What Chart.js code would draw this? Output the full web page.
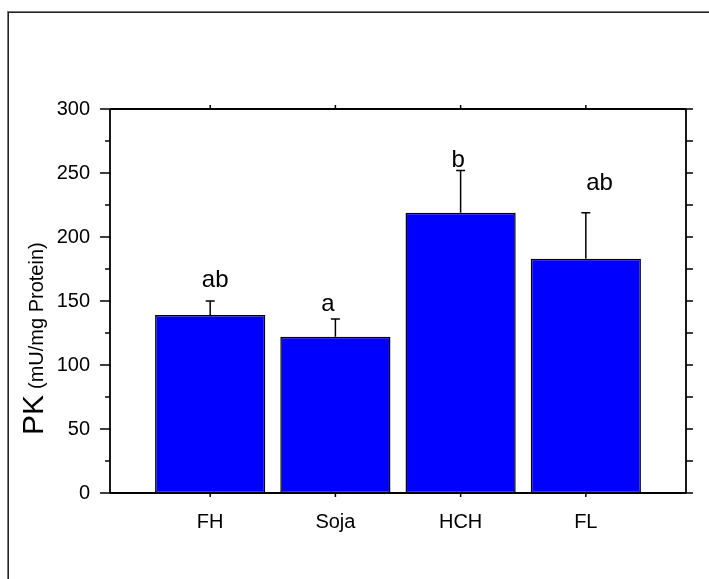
<!DOCTYPE html>
<html><head><meta charset="utf-8">
<script src="https://cdn.jsdelivr.net/npm/chart.js@4/dist/chart.umd.min.js"></script>
<style>html,body{margin:0;padding:0;background:#fff}#wrap{position:absolute;left:0;top:0;width:709px;height:579px}</style>
</head><body><div id="wrap"><canvas id="c" width="709" height="579"></canvas></div>
<script>
const categories = ['FH', 'Soja', 'HCH', 'FL'];
const means = [139, 122, 219, 183];
const errors = [11, 14, 33, 36];
const letters = ['ab', 'a', 'b', 'ab'];
const letterX = [0.04, 0.94, 1.98, 3.11];
const letterY = [161, 142, 255, 237];
const yMin = 0, yMax = 300, yStep = 50, yMinorStep = 25;
const yTitleMain = 'PK';
const yTitleSub = '(mU/mg Protein)';

const FONT = "'Liberation Sans', Arial, sans-serif";

const decor = {
  id: 'decor',
  beforeDraw(chart) {
    const ctx = chart.ctx;
    ctx.save();
    ctx.fillStyle = '#fff';
    ctx.fillRect(0, 0, chart.width, chart.height);
    ctx.strokeStyle = '#777';
    ctx.lineWidth = 1;
    ctx.strokeRect(7.5, 11.5, 2000, 2000);
    ctx.strokeStyle = '#222';
    ctx.strokeRect(8.5, 12.5, 2000, 2000);
    ctx.restore();
  },
  afterDatasetsDraw(chart) {
    const ctx = chart.ctx;
    const xs = chart.scales.x, ys = chart.scales.y;
    const a = chart.chartArea;
    ctx.save();
    // error bars
    ctx.strokeStyle = '#000';
    ctx.lineWidth = 1.5;
    means.forEach((m, i) => {
      const x = xs.getPixelForValue(i);
      const y0 = ys.getPixelForValue(m);
      const y1 = ys.getPixelForValue(m + errors[i]);
      ctx.beginPath();
      ctx.moveTo(x, y0); ctx.lineTo(x, y1);
      ctx.moveTo(x - 4.5, y1); ctx.lineTo(x + 4.5, y1);
      ctx.stroke();
    });
    // letters
    ctx.fillStyle = '#000';
    ctx.font = '24px ' + FONT;
    ctx.textAlign = 'center';
    ctx.textBaseline = 'alphabetic';
    letters.forEach((t, i) => {
      ctx.fillText(t, xs.getPixelForValue(letterX[i]), ys.getPixelForValue(letterY[i]));
    });
    // axes frame
    ctx.lineWidth = 1.8;
    ctx.beginPath();
    ctx.moveTo(a.left, a.top); ctx.lineTo(a.right, a.top);
    ctx.moveTo(a.left, a.top); ctx.lineTo(a.left, a.bottom);
    ctx.moveTo(a.right, a.top); ctx.lineTo(a.right, a.bottom);
    ctx.moveTo(a.left, a.bottom); ctx.lineTo(a.right, a.bottom);
    ctx.stroke();
    ctx.lineWidth = 1.5;
    ctx.beginPath();
    for (let v = yMin; v <= yMax; v += yMinorStep) {
      const y = ys.getPixelForValue(v);
      const major = v % yStep === 0;
      ctx.moveTo(a.left - (major ? 10 : 5), y); ctx.lineTo(a.left, y);
      ctx.moveTo(a.right, y); ctx.lineTo(a.right + 7, y);
    }
    categories.forEach((c, i) => {
      const x = xs.getPixelForValue(i);
      ctx.moveTo(x, a.bottom); ctx.lineTo(x, a.bottom + 4);
      ctx.moveTo(x, a.top); ctx.lineTo(x, a.top - 4);
    });
    ctx.stroke();
    // y title
    ctx.translate(43, 435);
    ctx.rotate(-Math.PI / 2);
    ctx.textAlign = 'left';
    ctx.font = '30px ' + FONT;
    ctx.fillText(yTitleMain, 0, 0);
    const w = ctx.measureText(yTitleMain).width;
    ctx.font = '20px ' + FONT;
    ctx.fillText(yTitleSub, w + 6, 0);
    ctx.restore();
  }
};

new Chart(document.getElementById('c'), {
  type: 'bar',
  data: {
    datasets: [{
      data: categories.map((c, i) => ({ x: i, y: means[i] })),
      backgroundColor: '#0000ff',
      borderColor: '#000',
      borderWidth: 1.5,
      borderSkipped: false,
      barPercentage: 0.88,
      categoryPercentage: 1
    }]
  },
  options: {
    responsive: false,
    animation: false,
    layout: { padding: { left: 0, top: 109, right: 23, bottom: 0 } },
    plugins: { legend: { display: false }, tooltip: { enabled: false } },
    scales: {
      x: {
        type: 'linear',
        position: 'bottom',
        offset: false,
        min: -0.8,
        max: 3.8,
        grid: { display: false, drawTicks: false, offset: false },
        border: { display: false },
        afterBuildTicks: s => { s.ticks = categories.map((c, i) => ({ value: i })); },
        afterFit: s => { s.height = 86; },
        ticks: {
          autoSkip: false,
          maxRotation: 0,
          padding: 17,
          color: '#000',
          font: { family: FONT, size: 20 },
          callback: v => categories[v]
        }
      },
      y: {
        position: 'left',
        min: yMin,
        max: yMax,
        grid: { display: false, drawTicks: false },
        border: { display: false },
        afterFit: s => { s.width = 110; },
        ticks: {
          stepSize: yStep,
          padding: 20,
          color: '#000',
          font: { family: FONT, size: 20 }
        }
      }
    }
  },
  plugins: [decor]
});
</script></body></html>
